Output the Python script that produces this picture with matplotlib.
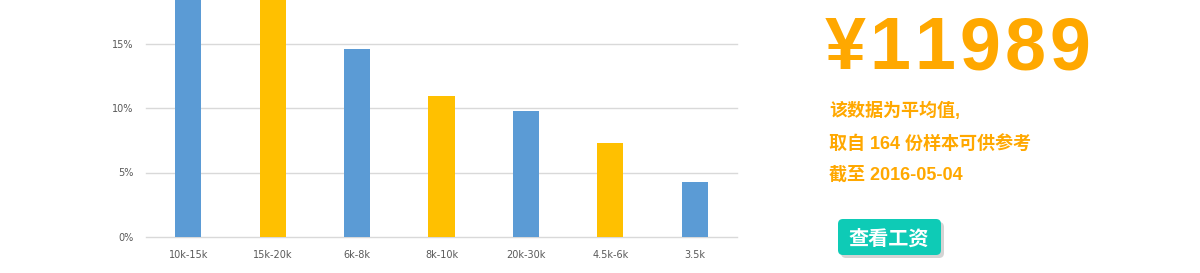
import matplotlib.pyplot as plt
from matplotlib.patches import FancyBboxPatch

# salary bands and share of samples (%)
categories = ['10k-15k', '15k-20k', '6k-8k', '8k-10k', '20k-30k', '4.5k-6k', '3.5k']
shares = [21.5, 19.5, 14.55, 10.95, 9.75, 7.25, 4.25]
yticks = [0, 5, 10, 15]
ytick_labels = ['0%', '5%', '10%', '15%']
bar_colors = ['#5B9BD5', '#FFC000'] * 4

avg_salary = '¥11989'
notes = ['该数据为平均值,', '取自 164 份样本可供参考', '截至 2016-05-04']
button_label = '查看工资'

W, H = 1200, 273
fig = plt.figure(figsize=(W / 100, H / 100), dpi=100)

# plot area in pixel coordinates of the reference
left, right, zero_y = 146, 737, 237
ax = fig.add_axes([left / W, (H - zero_y) / H, (right - left) / W, zero_y / H])
x = range(len(categories))
ax.bar(x, shares, width=0.31, color=bar_colors[:len(categories)], zorder=3)
ax.set_xlim(-0.5, len(categories) - 0.5)
ax.set_ylim(0, 237 / 64.5 * 5)
ax.set_yticks(yticks)
ax.set_yticklabels(ytick_labels)
ax.set_xticks(list(x))
ax.set_xticklabels(categories)
ax.tick_params(axis='both', length=0, labelsize=7, labelcolor='#595959')
ax.tick_params(axis='x', pad=9)
ax.tick_params(axis='y', pad=9)
ax.grid(axis='y', color='#d9d9d9', linewidth=1, zorder=0)
for gl in ax.get_ygridlines():
    gl.set_clip_on(False)
for s in ax.spines.values():
    s.set_visible(False)

# overlay in pixel coords for the right-hand panel
ov = fig.add_axes([0, 0, 1, 1])
ov.set_xlim(0, W)
ov.set_ylim(H, 0)
ov.axis('off')

orange = '#FFA800'
# big number, spaced out like the original
for i, ch in enumerate(avg_salary):
    ov.text(845 + 45 * i, 69, ch, color=orange, fontsize=53, fontweight='bold',
            family=['Liberation Sans', 'Noto Sans CJK SC'], va='baseline', ha='center')

line_y = [111, 144, 175]
for txt, yy in zip(notes, line_y):
    ov.text(829, yy, txt, color=orange, fontsize=13, fontweight='bold',
            family=['Liberation Sans', 'Noto Sans CJK SC'], va='center', ha='left')

# button with shadow
ov.add_patch(FancyBboxPatch((841, 222), 103, 36, boxstyle='round,pad=0,rounding_size=5',
                            facecolor='#d4d4d4', edgecolor='none'))
ov.add_patch(FancyBboxPatch((838, 219), 103, 36, boxstyle='round,pad=0,rounding_size=5',
                            facecolor='#0ECBB6', edgecolor='none'))
ov.text(889, 238, button_label, color='white', fontsize=14.5, fontweight='bold',
        family=['Noto Sans CJK SC', 'DejaVu Sans'], va='center', ha='center')

fig.savefig('out.png', dpi=100)
